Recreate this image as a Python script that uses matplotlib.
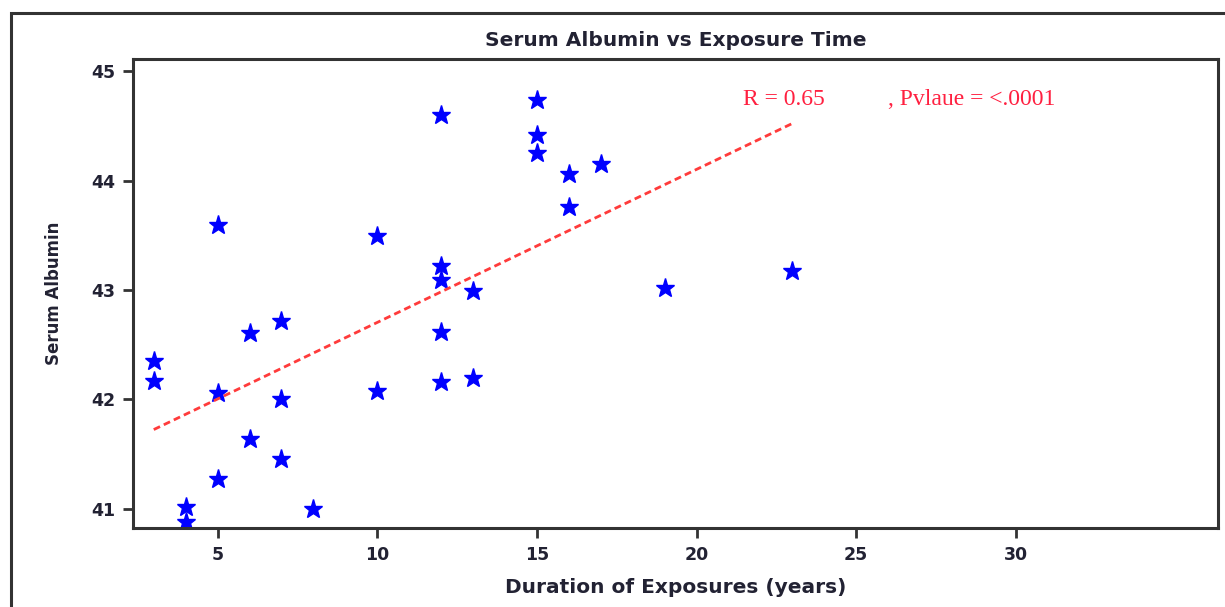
import matplotlib
matplotlib.use("Agg")
import matplotlib.pyplot as plt
import numpy as np
from matplotlib.patches import Rectangle

# exposure duration (years) and serum albumin readings
duration = [3, 3, 4, 4, 5, 5, 5, 6, 6, 7, 7, 7, 8, 10, 10,
            12, 12, 12, 12, 12, 13, 13, 15, 15, 15, 16, 16, 17, 19, 23]
albumin = [42.35, 42.17, 41.02, 40.88, 43.59, 42.06, 41.27, 42.61, 41.64, 42.72,
           42.00, 41.46, 41.00, 43.49, 42.08, 44.60, 43.22, 43.09, 42.62, 42.16,
           42.99, 42.20, 44.74, 44.42, 44.25, 44.06, 43.76, 44.15, 43.02, 43.17]
x_ticks = [5, 10, 15, 20, 25, 30]
y_ticks = [41, 42, 43, 44, 45]

fig = plt.figure(figsize=(12.25, 6.07), dpi=100)
ax = fig.add_axes([133/1225, 1 - 528/607, (1218-133)/1225, (528-59)/607])

# outer frame (only left and top edges visible in the original)
fig.patches.append(Rectangle((11/1225, -0.1), 1.2, 1.1 - 13/607,
                             transform=fig.transFigure, fill=False,
                             edgecolor="#333333", lw=2.2))

ax.plot(duration, albumin, linestyle="none", marker="*", ms=14,
        color="#0000ff", markeredgecolor="#0000ff")

slope, icpt = np.polyfit(duration, albumin, 1)
xs = np.array([min(duration), max(duration)])
ax.plot(xs, icpt + slope * xs, color="#ff3b3b", lw=2, linestyle=(0, (2.5, 1.5)))

ax.text(21.45, 44.74, "R = 0.65", color="#ff2040", fontsize=17,
        family="Liberation Serif", ha="left", va="center")
ax.text(26.0, 44.74, ", Pvlaue = <.0001", color="#ff2040", fontsize=17,
        family="Liberation Serif", ha="left", va="center")

ax.set_xlim(2.35, 36.33)
ax.set_ylim(40.826, 45.11)
ax.set_xticks(x_ticks)
ax.set_yticks(y_ticks)
ax.tick_params(direction="out", length=7, width=2, color="#333333", labelsize=12.5, pad=6)
for lab in ax.get_xticklabels() + ax.get_yticklabels():
    lab.set_fontweight("bold")
    lab.set_color("#222233")
for sp in ax.spines.values():
    sp.set_linewidth(2.2)
    sp.set_color("#333333")

ax.set_title("Serum Albumin vs Exposure Time", fontsize=14.5, fontweight="bold",
             color="#222233", pad=9)
ax.set_xlabel("Duration of Exposures (years)", fontsize=14.5, fontweight="bold",
              color="#222233", labelpad=10)
ax.set_ylabel("Serum Albumin", fontsize=12, fontweight="bold", color="#222233",
              labelpad=20)

fig.savefig("out.png", dpi=100)
